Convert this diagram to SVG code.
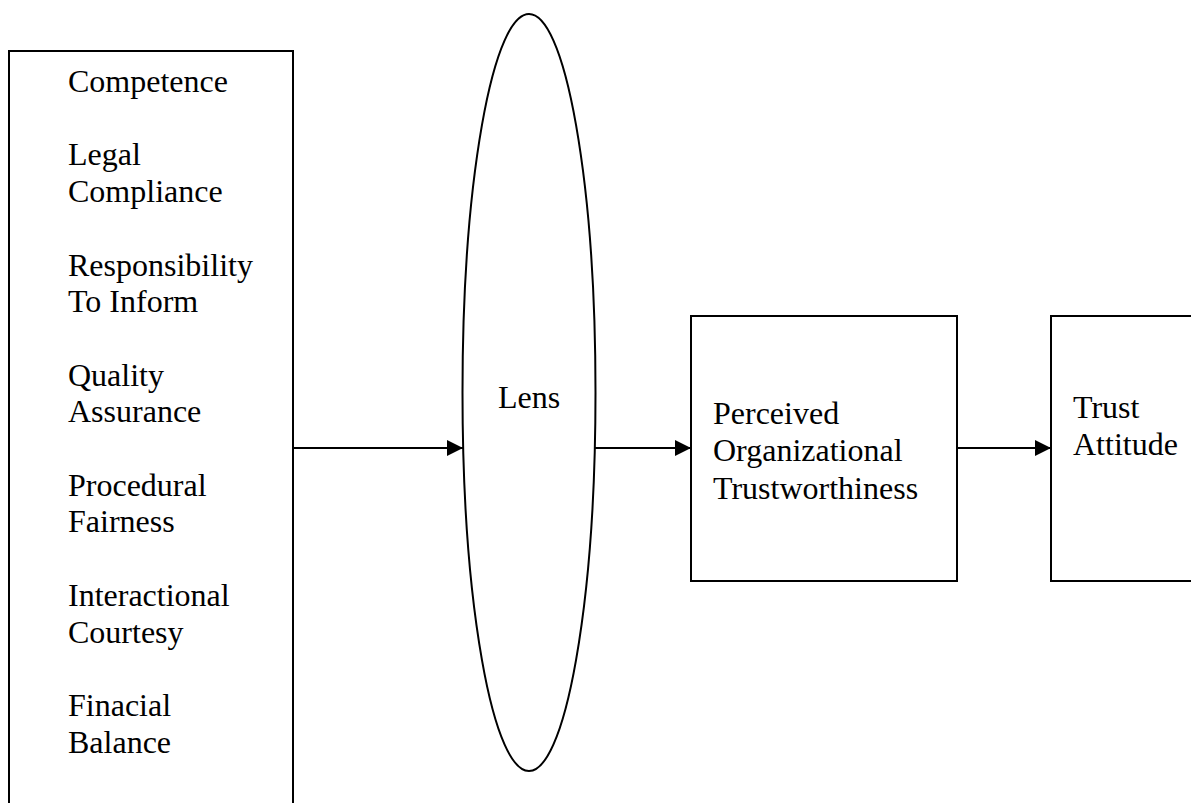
<svg xmlns="http://www.w3.org/2000/svg" width="1191" height="803" viewBox="0 0 1191 803">
<style>
.box{fill:#fff;stroke:#000;stroke-width:2}
.t{font-family:"Liberation Serif","Times New Roman",serif;font-size:32px;fill:#000}
.c{stroke:#000;stroke-width:2;fill:none}
</style>
<defs>
<marker id="ah" viewBox="0 0 10 10" refX="10" refY="5" markerWidth="18" markerHeight="16" markerUnits="userSpaceOnUse" orient="auto">
<path d="M0,0 L10,5 L0,10 z" fill="#000"/>
</marker>
</defs>
<rect width="1191" height="803" fill="#fff"/>
<g id="factors">
<path class="box" d="M9,805 V51 H293 V805"/>
<text class="t" x="68" y="92">Competence</text>
<text class="t" x="68" y="165.4">Legal</text>
<text class="t" x="68" y="202.1">Compliance</text>
<text class="t" x="68" y="275.5">Responsibility</text>
<text class="t" x="68" y="312.2">To Inform</text>
<text class="t" x="68" y="385.6">Quality</text>
<text class="t" x="68" y="422.3">Assurance</text>
<text class="t" x="68" y="495.7">Procedural</text>
<text class="t" x="68" y="532.4">Fairness</text>
<text class="t" x="68" y="605.8">Interactional</text>
<text class="t" x="68" y="642.5">Courtesy</text>
<text class="t" x="68" y="715.9">Finacial</text>
<text class="t" x="68" y="752.6">Balance</text>
</g>
<g id="lens">
<ellipse class="box" cx="529" cy="392.5" rx="66.5" ry="378.5"/>
<text class="t" x="498" y="408">Lens</text>
</g>
<g id="pot">
<rect class="box" x="691" y="316" width="266" height="265"/>
<text class="t" x="713" y="423.5">Perceived</text>
<text class="t" x="713" y="461">Organizational</text>
<text class="t" x="713" y="498.5">Trustworthiness</text>
</g>
<g id="trust">
<path class="box" d="M1193,316 H1051 V581 H1193"/>
<text class="t" x="1073" y="418">Trust</text>
<text class="t" x="1073" y="455">Attitude</text>
</g>
<g id="connectors">
<line class="c" x1="293" y1="448" x2="463" y2="448" marker-end="url(#ah)"/>
<line class="c" x1="595" y1="448" x2="691" y2="448" marker-end="url(#ah)"/>
<line class="c" x1="957" y1="448" x2="1051" y2="448" marker-end="url(#ah)"/>
</g>
</svg>
